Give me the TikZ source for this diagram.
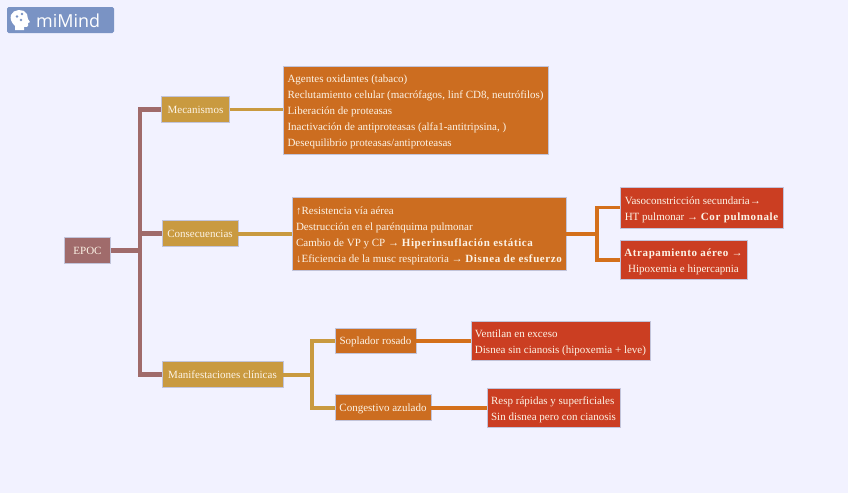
\documentclass[tikz,border=0pt]{standalone}
\usepackage{fontspec}
\setmainfont{Liberation Serif}
\newfontface\hifont[LetterSpace=5.5]{Liberation Serif Bold}
\newfontfamily\logofont{Open Sans}
\usetikzlibrary{arrows.meta,positioning,calc}
\definecolor{pagebg}{HTML}{F2F2FF}
\definecolor{rootbrown}{HTML}{A06B6B}
\definecolor{levelgold}{HTML}{C99A40}
\definecolor{levelorange}{HTML}{CC6D20}
\definecolor{levelred}{HTML}{CB3E22}
\definecolor{edgeblue}{HTML}{C2C4DA}
\definecolor{logoblue}{HTML}{7A93C4}
\definecolor{inktext}{HTML}{FCF3E6}
\tikzset{
  mapbox/.style={draw=edgeblue, line width=0.8pt, inner sep=0pt, text=inktext, font=\fontsize{9.4}{13.65}\selectfont},
  oneline/.style={text height=8pt, text depth=2pt},
  rootbox/.style={mapbox, oneline, fill=rootbrown},
  goldbox/.style={mapbox, oneline, fill=levelgold},
  orangebox/.style={mapbox, fill=levelorange},
  redbox/.style={mapbox, fill=levelred},
  trunkline/.style={draw=rootbrown, line width=3.8pt},
  goldline/.style={draw=levelgold, line width=3.4pt},
  orangeline/.style={draw=levelorange!85!orange, line width=3.4pt}
}
\newcommand{\hi}[1]{{\hifont #1}}
\newcommand{\toplift}{\rule{0pt}{10pt}}
\begin{document}
\begin{tikzpicture}[x=0.03cm, y=-0.03cm, line cap=butt, line join=miter]

\fill[pagebg] (0,0) rectangle (848,493);

% logo
\fill[logoblue, rounded corners=0.05cm] (7,7) rectangle (114,33);
\fill[white] (15,30) -- (15,26) .. controls (11,22) and (10,19) .. (11,15) .. controls (13,9) and (24,8) .. (27,14) .. controls (28,16) and (28,17) .. (28,19) -- (30,22) -- (28,23) -- (28,26) .. controls (28,27) and (26,27) .. (24,27) -- (24,30) -- cycle;
\fill[logoblue] (22,14) circle (1.3) (17,16.5) circle (1.3) (21,20) circle (1.3);
\node[text=white, font=\logofont\fontsize{15.3}{16}\selectfont, anchor=west, inner sep=0pt] (logotext) at (36,21) {miMind};

% boxes
\node[rootbox, minimum width=1.38cm, minimum height=0.8cm] (epoc) at (87.5,250.5) {EPOC};
\node[goldbox, minimum width=2.02cm, minimum height=0.76cm] (meca) at (195.5,109.5) {Mecanismos};
\node[goldbox, minimum width=2.28cm, minimum height=0.76cm] (conse) at (200,233.5) {Consecuencias};
\node[goldbox, minimum width=3.63cm, minimum height=0.76cm] (manif) at (222.5,374.5) {Manifestaciones clínicas};

\node[orangebox, minimum width=7.95cm, minimum height=2.64cm, align=left] (agentes) at (415.5,110) {\toplift Agentes oxidantes (tabaco)\\
Reclutamiento celular (macrófagos, linf CD8, neutrófilos)\\
Liberación de proteasas\\
Inactivación de antiproteasas (alfa1-antitripsina, )\\
Desequilibrio proteasas/antiproteasas};
\node[orangebox, minimum width=8.22cm, minimum height=2.19cm, align=left] (resist) at (429,233.5) {\toplift ↑Resistencia vía aérea\\
Destrucción en el parénquima pulmonar\\
Cambio de VP y CP → \hi{Hiperinsuflación estática}\\
↓Eficiencia de la musc respiratoria → \hi{Disnea de esfuerzo}};
\node[orangebox, oneline, minimum width=2.43cm, minimum height=0.74cm] (soplador) at (375.5,341) {Soplador rosado};
\node[orangebox, oneline, minimum width=2.88cm, minimum height=0.76cm] (congest) at (383,407.5) {Congestivo azulado};

\node[redbox, minimum width=4.89cm, minimum height=1.23cm, align=left] (vaso) at (701.5,207.5) {\toplift Vasoconstricción secundaria→\\
HT pulmonar → \hi{Cor pulmonale}};
\node[redbox, minimum width=3.81cm, minimum height=1.17cm, align=center] (atrapa) at (683.5,259.5) {\toplift\hi{Atrapamiento aéreo →}\\
Hipoxemia e hipercapnia};
\node[redbox, minimum width=5.37cm, minimum height=1.17cm, align=left] (ventilan) at (560.5,340.5) {\toplift Ventilan en exceso\\
Disnea sin cianosis (hipoxemia + leve)};
\node[redbox, minimum width=3.99cm, minimum height=1.17cm, align=left] (respi) at (553.5,407.5) {\toplift Resp rápidas y superficiales\\
Sin disnea pero con cianosis};

% connectors
\coordinate (epocfork) at (140,250.5);
\coordinate (manifork) at (312,374.5);
\coordinate (resifork) at (597,233.5);
\draw[trunkline] (epoc) -- (epocfork);
\draw[trunkline] (epocfork) |- (meca);
\draw[trunkline] (epocfork) |- (conse);
\draw[trunkline] (epocfork) |- (manif);
\draw[goldline] (meca) -- (agentes.west |- meca);
\draw[goldline] (conse) -- (resist);
\draw[goldline] (manif) -- (manifork);
\draw[goldline] (manifork) |- (soplador);
\draw[goldline] (manifork) |- (congest);
\draw[orangeline] (resist) -- (resifork);
\draw[orangeline] (resifork) |- (vaso);
\draw[orangeline] (resifork) |- (atrapa);
\draw[orangeline] (soplador) -- (ventilan.west |- soplador);
\draw[orangeline] (congest) -- (respi);

\end{tikzpicture}
\end{document}
